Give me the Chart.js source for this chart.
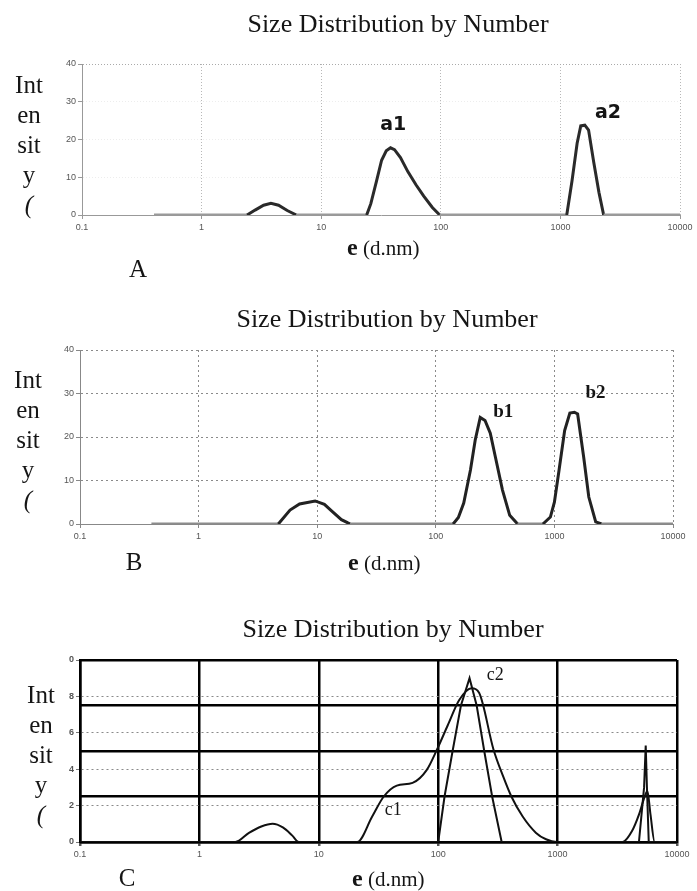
<!DOCTYPE html>
<html><head><meta charset="utf-8">
<script src="https://cdn.jsdelivr.net/npm/chart.js@4/dist/chart.umd.min.js"></script>
<style>
html,body{margin:0;padding:0;background:#fff;width:697px;height:891px;overflow:hidden}
canvas{position:absolute;left:0}
</style></head><body>
<canvas id="cA" width="697" height="285" style="top:0px"></canvas>
<canvas id="cB" width="697" height="295" style="top:285px"></canvas>
<canvas id="cC" width="697" height="311" style="top:580px"></canvas>
<script>
// ---------- data ----------
const xTickValues = [0.1, 1, 10, 100, 1000, 10000];
const titleText = 'Size Distribution by Number';
const yLabelLines = ['Int', 'en', 'sit', 'y', '('];

// Panel A
const sizeA = [0.4, 2.4, 2.8, 3.3, 3.8, 4.4, 5.2, 6.2, 24, 26, 29, 32, 35, 38, 41, 46, 53, 62, 72, 85, 98, 1130, 1250, 1380, 1480, 1600, 1720, 1900, 2100, 2300, 10000];
const intensityA = [0, 0, 1.3, 2.6, 3.1, 2.6, 1.2, 0, 0, 3, 9, 14.5, 17, 17.8, 17.3, 15.2, 11.5, 8, 5, 2, 0, 0, 9, 19, 23.6, 23.8, 22.5, 14, 6, 0, 0];
const yTicksA = [0, 10, 20, 30, 40];
const peakNamesA = ['a1', 'a2'];
const peakLabelXA = [40, 2500];
const peakLabelYA = [22.5, 25.7];

// Panel B
const sizeB = [0.4, 4.7, 5.9, 7.1, 9.6, 11.5, 13.5, 16, 18, 19, 140, 155, 172, 196, 215, 237, 260, 288, 318, 365, 420, 490, 800, 925, 1000, 1095, 1220, 1350, 1475, 1570, 1765, 1950, 2230, 2500, 10000];
const intensityB = [0, 0, 3.2, 4.6, 5.3, 4.5, 2.8, 1, 0.3, 0, 0, 1.5, 4.8, 12.4, 19.3, 24.5, 23.8, 20.9, 15.4, 7.8, 2, 0, 0, 1.6, 5, 12.4, 21.5, 25.5, 25.7, 25.3, 15.4, 6.2, 0.5, 0, 0];
const yTicksB = [0, 10, 20, 30, 40];
const peakNamesB = ['b1', 'b2'];
const peakLabelXB = [370, 2220];
const peakLabelYB = [24.6, 29.0];

// Panel C
const sizeC1 = [0.1, 2.0, 2.6, 3.3, 4.1, 5, 6, 6.8, 21, 28, 35, 45, 61, 80, 98, 120, 150, 190, 220, 290, 350, 410, 510, 660, 800, 980, 3500, 4200, 4800, 5300, 5650, 6000, 6500, 10000];
const intensityC1 = [0, 0, 0.5, 0.85, 1.0, 0.8, 0.35, 0, 0, 1.4, 2.5, 3.1, 3.25, 3.95, 5.1, 6.4, 7.8, 8.45, 8.2, 5.1, 3.6, 2.5, 1.4, 0.5, 0.15, 0, 0, 0.6, 1.5, 2.4, 2.8, 1.5, 0, 0];
const sizeC2 = [0.1, 100, 113, 132, 155, 183, 210, 243, 283, 340, 4800, 5300, 5470, 5600, 5800, 10000];
const intensityC2 = [0, 0, 2.5, 5, 7.5, 9.0, 7.5, 5, 2.5, 0, 0, 3, 5.3, 3, 0, 0];
const yTicksC = [0, 2, 4, 6, 8, 10];
const yTickLabelsC = ['0', '2', '4', '6', '8', '0'];
const heavyLevelsC = [0, 2.5, 5, 7.5, 10];
const peakNamesC = ['c2', 'c1'];
const peakLabelXC = [301, 42];
const peakLabelYC = [8.9, 1.48];

// ---------- helpers ----------
const pts = (xs, ys) => xs.map((x, i) => ({x: x, y: ys[i]}));
const SERIF = '"Liberation Serif", "Times New Roman", serif';
const SANS = '"Liberation Sans", Arial, sans-serif';

function textPlugin(items, names, lx, ly, labelFont) {
  return {
    id: 'texts',
    afterDraw(chart) {
      const ctx = chart.ctx;
      ctx.save();
      ctx.fillStyle = '#151515';
      ctx.textBaseline = 'alphabetic';
      for (const t of items) {
        ctx.font = t.font;
        ctx.textAlign = t.align || 'center';
        ctx.fillText(t.text, t.x, t.y);
      }
      const xs = chart.scales.x, ys = chart.scales.y;
      ctx.font = labelFont;
      ctx.textAlign = 'center';
      names.forEach((n, i) => {
        ctx.fillText(n, xs.getPixelForValue(lx[i]), ys.getPixelForValue(ly[i]));
      });
      ctx.restore();
    }
  };
}

function commonTexts(titleX, titleY, ylX, ylY0, xlX, xlY, letter, letterX) {
  const arr = [{text: titleText, x: titleX, y: titleY, font: '26px ' + SERIF}];
  yLabelLines.forEach((s, i) => {
    arr.push({text: s, x: ylX, y: ylY0 + i * 30, font: (s === '(' ? 'italic ' : '') + '25px ' + SERIF});
  });
  arr.push({text: 'e', x: xlX, y: xlY, font: 'bold 24px ' + SERIF, align: 'left'});
  arr.push({text: '(d.nm)', x: xlX + 16, y: xlY, font: '21px ' + SERIF, align: 'left'});
  arr.push({text: letter, x: letterX, y: xlY + (letter === 'A' ? 22 : 0), font: '25px ' + SERIF});
  return arr;
}

function xScale(gridOpts, borderOpts) {
  return {
    type: 'logarithmic', min: 0.1, max: 10000,
    afterBuildTicks: s => { s.ticks = xTickValues.map(v => ({value: v})); },
    afterFit: s => { s.height = 30; },
    ticks: {
      autoSkip: false, maxRotation: 0, padding: 3,
      font: {family: SANS, size: 9}, color: '#555',
      callback: v => String(v)
    },
    grid: gridOpts, border: borderOpts
  };
}

function yScale(ticksArr, gridOpts, borderOpts, labelFn) {
  return {
    type: 'linear', min: ticksArr[0], max: ticksArr[ticksArr.length - 1],
    afterBuildTicks: s => { s.ticks = ticksArr.map(v => ({value: v})); },
    afterFit: s => { s.width = 30; },
    ticks: {
      padding: 2, font: {family: SANS, size: 9}, color: '#555',
      callback: labelFn || (v => String(v))
    },
    grid: gridOpts, border: borderOpts
  };
}

const baseOpts = (padding) => ({
  responsive: false, animation: false, devicePixelRatio: 1,
  layout: {padding: padding, autoPadding: false},
  plugins: {legend: {display: false}, tooltip: {enabled: false}, title: {display: false}},
  elements: {point: {radius: 0}}
});

// ---------- Panel A ----------
{
  const opts = baseOpts({left: 52, right: 17, top: 64, bottom: 40});
  opts.scales = {
    x: xScale({color: '#b8b8b8', lineWidth: 1, tickLength: 4, tickColor: '#999'},
              {color: '#999', width: 1, dash: [1, 2]}),
    y: yScale(yTicksA,
              {color: c => c.tick && c.tick.value === 40 ? '#aaa' : 'rgba(0,0,0,0.07)', lineWidth: 1, tickLength: 4, tickColor: '#999'},
              {color: '#999', width: 1, dash: [1, 2]})
  };
  new Chart(document.getElementById('cA'), {
    type: 'line',
    data: {datasets: [{
      data: pts(sizeA, intensityA), borderWidth: 3, borderColor: '#2a2a2a', tension: 0,
      segment: {borderColor: c => (c.p0.parsed.y === 0 && c.p1.parsed.y === 0) ? '#9a9a9a' : '#2a2a2a'}
    }]},
    options: opts,
    plugins: [textPlugin(commonTexts(398, 32, 29, 93, 347, 255, 'A', 138),
                         peakNamesA, peakLabelXA, peakLabelYA, 'bold 19px "DejaVu Sans", Verdana, sans-serif')]
  });
}

// ---------- Panel B ----------
{
  const opts = baseOpts({left: 50, right: 24, top: 65, bottom: 26});
  opts.scales = {
    x: xScale({color: '#8a8a8a', lineWidth: 1, tickLength: 4, tickColor: '#888'},
              {color: '#888', width: 1, dash: [2, 3]}),
    y: yScale(yTicksB,
              {color: '#8a8a8a', lineWidth: 1, tickLength: 4, tickColor: '#888'},
              {color: '#888', width: 1, dash: [2, 3]})
  };
  new Chart(document.getElementById('cB'), {
    type: 'line',
    data: {datasets: [{
      data: pts(sizeB, intensityB), borderWidth: 3, borderColor: '#222', tension: 0,
      segment: {borderColor: c => (c.p0.parsed.y === 0 && c.p1.parsed.y === 0) ? '#8c8c8c' : '#222'}
    }]},
    options: opts,
    plugins: [textPlugin(commonTexts(387, 42, 28, 103, 348, 285, 'B', 134),
                         peakNamesB, peakLabelXB, peakLabelYB, 'bold 19px ' + SERIF)]
  });
}

// ---------- Panel C ----------
{
  const opts = baseOpts({left: 50, right: 20, top: 80, bottom: 19});
  opts.scales = {
    x: xScale({color: '#000', lineWidth: 2.5, tickLength: 4, tickColor: '#555'},
              {color: '#000', width: 2.5}),
    y: yScale(yTicksC,
              {color: c => c.tick && (c.tick.value === 0 || c.tick.value === 10) ? 'rgba(0,0,0,0)' : '#8a8a8a', lineWidth: 1, tickLength: 4, tickColor: '#777'},
              {color: '#000', width: 2.5, dash: [2, 3]},
              (v, i) => yTickLabelsC[i]),
    y2: {
      type: 'linear', position: 'left', min: 0, max: 10,
      afterBuildTicks: s => { s.ticks = heavyLevelsC.map(v => ({value: v})); },
      afterFit: s => { s.width = 0; },
      ticks: {display: false},
      grid: {color: '#000', lineWidth: 2.5, drawTicks: false},
      border: {display: false}
    }
  };
  opts.scales.y.ticks.font = {family: SANS, size: 9, weight: 'bold'};
  new Chart(document.getElementById('cC'), {
    type: 'line',
    data: {datasets: [
      {data: pts(sizeC1, intensityC1), borderWidth: 2, borderColor: '#111', cubicInterpolationMode: 'monotone', tension: 0.4},
      {data: pts(sizeC2, intensityC2), borderWidth: 2, borderColor: '#111', tension: 0}
    ]},
    options: opts,
    plugins: [textPlugin(commonTexts(393, 57, 41, 123, 352, 306, 'C', 127),
                         peakNamesC, peakLabelXC, peakLabelYC, '18px ' + SERIF)]
  });
}
</script>
</body></html>
